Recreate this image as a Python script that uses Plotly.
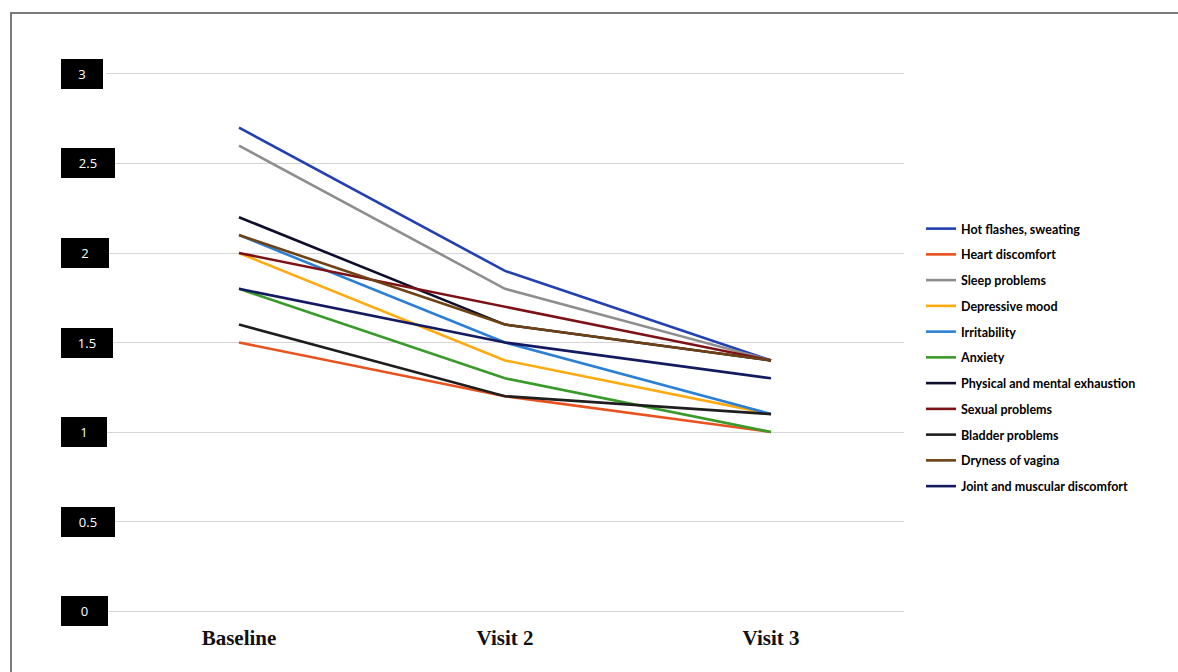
import plotly.graph_objects as go

# Visits on the x axis
visits = ["Baseline", "Visit 2", "Visit 3"]

# Mean symptom scores per visit
hot_flashes = [2.7, 1.9, 1.4]
heart_discomfort = [1.5, 1.2, 1.0]
sleep_problems = [2.6, 1.8, 1.4]
depressive_mood = [2.0, 1.4, 1.1]
irritability = [2.1, 1.5, 1.1]
anxiety = [1.8, 1.3, 1.0]
exhaustion = [2.2, 1.6, 1.4]
sexual_problems = [2.0, 1.7, 1.4]
bladder_problems = [1.6, 1.2, 1.1]
vaginal_dryness = [2.1, 1.6, 1.4]
joint_discomfort = [1.8, 1.5, 1.3]

# Y-axis tick values and their labels
y_ticks = [0, 0.5, 1, 1.5, 2, 2.5, 3]
y_tick_labels = ["0", "0.5", "1", "1.5", "2", "2.5", "3"]

series = [
    ("Hot flashes, sweating", hot_flashes, "#2340b0"),
    ("Heart discomfort", heart_discomfort, "#e8521e"),
    ("Sleep problems", sleep_problems, "#8e8e8e"),
    ("Depressive mood", depressive_mood, "#ffaa10"),
    ("Irritability", irritability, "#2b7fd4"),
    ("Anxiety", anxiety, "#3b9a2c"),
    ("Physical and mental exhaustion", exhaustion, "#0e0e2c"),
    ("Sexual problems", sexual_problems, "#7c1216"),
    ("Bladder problems", bladder_problems, "#1e1e1e"),
    ("Dryness of vagina", vaginal_dryness, "#6e4214"),
    ("Joint and muscular discomfort", joint_discomfort, "#131a60"),
]

fig = go.Figure()
for i, (name, vals, color) in enumerate(series):
    fig.add_trace(go.Scatter(
        x=visits, y=vals, name=name, mode="lines",
        line=dict(color=color, width=2.6),
        legendgroup=f"g{i}",
    ))

# Plot-area geometry in pixels (used for frame and label boxes)
W, H = 1178, 672
L, R, T, B = 106, 274, 70, 57
pw, ph = W - L - R, H - T - B
y_lo, y_hi = -0.0223, 3.0223


def px_x(px):
    return (px - L) / pw


def px_y(py):
    return (H - B - py) / ph


# Black boxes carrying the y tick labels
box_widths = {"0": 47, "0.5": 54, "1": 46, "1.5": 52, "2": 48, "2.5": 54, "3": 42}
annotations = []
for v, lab in zip(y_ticks, y_tick_labels):
    annotations.append(dict(
        x=px_x(61), xref="paper", xanchor="left",
        y=v, yref="y", yanchor="middle",
        text=lab, showarrow=False,
        font=dict(family="Open Sans", size=13, color="white"),
        bgcolor="black", borderpad=0, borderwidth=0,
        width=box_widths[lab], height=30, align="center", valign="middle",
    ))

fig.update_layout(
    width=W, height=H,
    margin=dict(l=L, r=R, t=T, b=B, pad=0),
    paper_bgcolor="white", plot_bgcolor="white",
    showlegend=True,
    legend=dict(
        x=px_x(921), xanchor="left",
        y=px_y(214), yanchor="top",
        font=dict(family="Lato", size=12.5, color="black", weight="bold"),
        tracegroupgap=6.5,
        bgcolor="rgba(0,0,0,0)", borderwidth=0,
    ),
    xaxis=dict(
        type="category", range=[-0.5, 2.5],
        showgrid=False, showline=False, zeroline=False,
        ticks="outside", ticklen=4, tickcolor="rgba(0,0,0,0)",
        tickfont=dict(family="Liberation Serif", size=21, color="#111111", weight="bold"),
    ),
    yaxis=dict(
        range=[y_lo, y_hi], tickvals=y_ticks, showticklabels=False,
        showgrid=True, gridcolor="#d6d6d6", gridwidth=1,
        zeroline=False, showline=False, ticks="",
    ),
    annotations=annotations,
    shapes=[dict(
        type="rect", xref="paper", yref="paper",
        x0=px_x(11), x1=px_x(1190), y0=px_y(690), y1=px_y(13),
        line=dict(color="#7a7a7a", width=2), fillcolor="rgba(0,0,0,0)",
        layer="below",
    )],
)

fig.write_html("out.html")
